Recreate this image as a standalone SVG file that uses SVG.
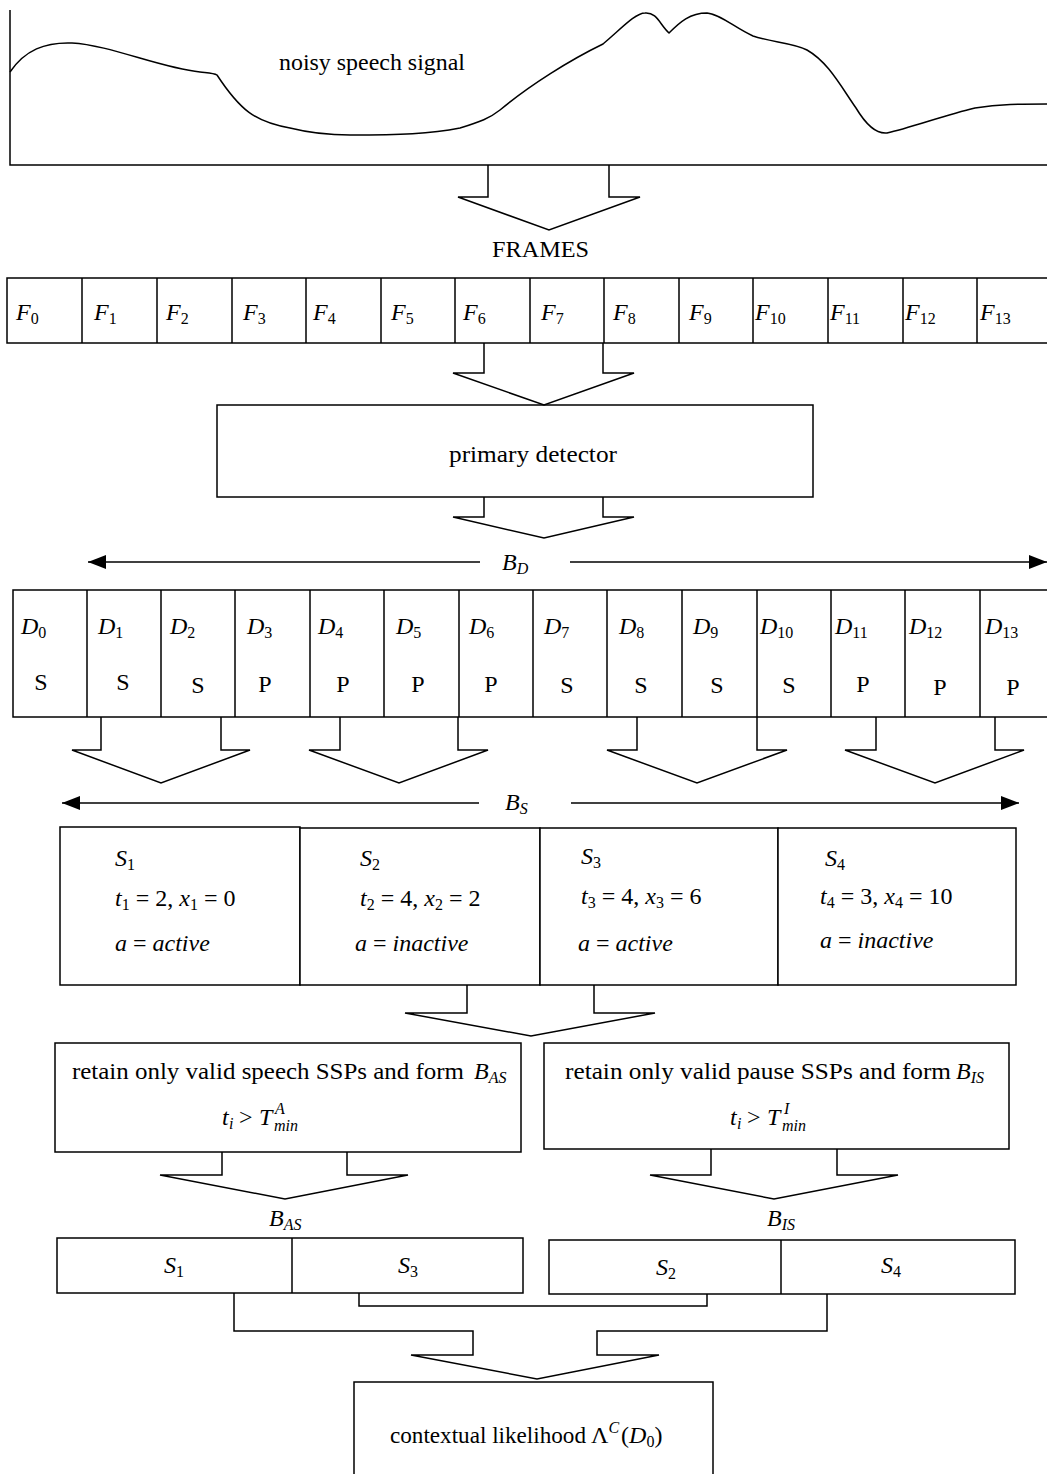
<svg xmlns="http://www.w3.org/2000/svg" width="1047" height="1474" viewBox="0 0 1047 1474">
  <style>
    .ln { fill: none; stroke: #000; stroke-width: 1.5; }
    .box { fill: #fff; stroke: #000; stroke-width: 1.5; }
    .t { font-family: "Liberation Serif", "DejaVu Serif", serif; font-size: 24px; fill: #000; }
    .c { text-anchor: middle; }
    .i { font-style: italic; }
    .s { font-size: 16px; }
  </style>
  <defs>
    <marker id="head" markerUnits="userSpaceOnUse" markerWidth="18" markerHeight="14" refX="18" refY="7" orient="auto">
      <path d="M0,0 L18,7 L0,14 z" fill="#000"/>
    </marker>
  </defs>
  <rect width="1047" height="1474" fill="#fff"/>

  <!-- signal plot -->
  <g id="signal">
    <path class="ln" d="M10,10 V165 H1047"/>
    <path class="ln" d="M10,72 C25,50 45,42 72,43 C110,45 160,68 200,72 C210,73 214,73 217,75 C240,110 255,122 290,128 C310,133 330,135 350,135 C400,135 430,134 460,128 C480,122 490,118 500,110 C530,85 570,60 603,44 C620,30 635,13 645,13 C657,12 660,25 669,33 C680,22 690,13 707,13 C720,14 735,28 753,36 C770,42 795,43 807,50 C828,62 840,85 856,108 C868,128 878,134 887,133 C910,128 945,115 975,108 C1000,104 1020,104 1047,104"/>
    <text class="t" x="279" y="70" textLength="186" lengthAdjust="spacingAndGlyphs">noisy speech signal</text>
  </g>

  <!-- frames -->
  <g id="frames">
    <rect class="box" x="7" y="278" width="1045" height="65"/>
    <path class="ln" d="M82,278V343 M157,278V343 M232,278V343 M306,278V343 M381,278V343 M455,278V343 M530,278V343 M604,278V343 M679,278V343 M753,278V343 M828,278V343 M903,278V343 M977,278V343"/>
    <text class="t i" x="16" y="320">F<tspan class="s" font-style="normal" dy="4">0</tspan></text>
    <text class="t i" x="94" y="320">F<tspan class="s" font-style="normal" dy="4">1</tspan></text>
    <text class="t i" x="166" y="320">F<tspan class="s" font-style="normal" dy="4">2</tspan></text>
    <text class="t i" x="243" y="320">F<tspan class="s" font-style="normal" dy="4">3</tspan></text>
    <text class="t i" x="313" y="320">F<tspan class="s" font-style="normal" dy="4">4</tspan></text>
    <text class="t i" x="391" y="320">F<tspan class="s" font-style="normal" dy="4">5</tspan></text>
    <text class="t i" x="463" y="320">F<tspan class="s" font-style="normal" dy="4">6</tspan></text>
    <text class="t i" x="541" y="320">F<tspan class="s" font-style="normal" dy="4">7</tspan></text>
    <text class="t i" x="613" y="320">F<tspan class="s" font-style="normal" dy="4">8</tspan></text>
    <text class="t i" x="689" y="320">F<tspan class="s" font-style="normal" dy="4">9</tspan></text>
    <text class="t i" x="755" y="320">F<tspan class="s" font-style="normal" dy="4">10</tspan></text>
    <text class="t i" x="830" y="320">F<tspan class="s" font-style="normal" dy="4">11</tspan></text>
    <text class="t i" x="905" y="320">F<tspan class="s" font-style="normal" dy="4">12</tspan></text>
    <text class="t i" x="980" y="320">F<tspan class="s" font-style="normal" dy="4">13</tspan></text>
  </g>
  <text class="t" x="492" y="257" font-size="25" textLength="97" lengthAdjust="spacingAndGlyphs">FRAMES</text>

  <!-- primary detector -->
  <g id="detector">
    <rect class="box" x="217" y="405" width="596" height="92"/>
    <text class="t" x="449" y="462" font-size="25" textLength="168" lengthAdjust="spacingAndGlyphs">primary detector</text>
  </g>

  <!-- decisions -->
  <g id="decisions">
    <rect class="box" x="13" y="590" width="1040" height="127"/>
    <path class="ln" d="M87,590V717 M161,590V717 M235,590V717 M310,590V717 M384,590V717 M459,590V717 M533,590V717 M607,590V717 M682,590V717 M757,590V717 M831,590V717 M905,590V717 M980,590V717"/>
    <text class="t i" x="21" y="634">D<tspan class="s" font-style="normal" dy="4">0</tspan></text>
    <text class="t i" x="98" y="634">D<tspan class="s" font-style="normal" dy="4">1</tspan></text>
    <text class="t i" x="170" y="634">D<tspan class="s" font-style="normal" dy="4">2</tspan></text>
    <text class="t i" x="247" y="634">D<tspan class="s" font-style="normal" dy="4">3</tspan></text>
    <text class="t i" x="318" y="634">D<tspan class="s" font-style="normal" dy="4">4</tspan></text>
    <text class="t i" x="396" y="634">D<tspan class="s" font-style="normal" dy="4">5</tspan></text>
    <text class="t i" x="469" y="634">D<tspan class="s" font-style="normal" dy="4">6</tspan></text>
    <text class="t i" x="544" y="634">D<tspan class="s" font-style="normal" dy="4">7</tspan></text>
    <text class="t i" x="619" y="634">D<tspan class="s" font-style="normal" dy="4">8</tspan></text>
    <text class="t i" x="693" y="634">D<tspan class="s" font-style="normal" dy="4">9</tspan></text>
    <text class="t i" x="760" y="634">D<tspan class="s" font-style="normal" dy="4">10</tspan></text>
    <text class="t i" x="835" y="634">D<tspan class="s" font-style="normal" dy="4">11</tspan></text>
    <text class="t i" x="909" y="634">D<tspan class="s" font-style="normal" dy="4">12</tspan></text>
    <text class="t i" x="985" y="634">D<tspan class="s" font-style="normal" dy="4">13</tspan></text>
    <text class="t c" x="41" y="690">S</text>
    <text class="t c" x="123" y="690">S</text>
    <text class="t c" x="198" y="693">S</text>
    <text class="t c" x="265" y="692">P</text>
    <text class="t c" x="343" y="692">P</text>
    <text class="t c" x="418" y="692">P</text>
    <text class="t c" x="491" y="692">P</text>
    <text class="t c" x="567" y="693">S</text>
    <text class="t c" x="641" y="693">S</text>
    <text class="t c" x="717" y="693">S</text>
    <text class="t c" x="789" y="693">S</text>
    <text class="t c" x="863" y="692">P</text>
    <text class="t c" x="940" y="695">P</text>
    <text class="t c" x="1013" y="695">P</text>
  </g>

  <!-- speech/silence periods -->
  <g id="ssp1">
    <rect class="box" x="60" y="827" width="240" height="158"/>
    <text class="t i" x="115" y="866">S<tspan class="s" font-style="normal" dy="4">1</tspan></text>
    <text class="t" x="115" y="906"><tspan class="i">t</tspan><tspan class="s" dy="4">1</tspan><tspan dy="-4"> = 2, </tspan><tspan class="i">x</tspan><tspan class="s" dy="4">1</tspan><tspan dy="-4"> = 0</tspan></text>
    <text class="t i" x="115" y="951">a <tspan font-style="normal">=</tspan> active</text>
  </g>
  <g id="ssp2">
    <rect class="box" x="300" y="828" width="240" height="157"/>
    <text class="t i" x="360" y="866">S<tspan class="s" font-style="normal" dy="4">2</tspan></text>
    <text class="t" x="360" y="906"><tspan class="i">t</tspan><tspan class="s" dy="4">2</tspan><tspan dy="-4"> = 4, </tspan><tspan class="i">x</tspan><tspan class="s" dy="4">2</tspan><tspan dy="-4"> = 2</tspan></text>
    <text class="t i" x="355" y="951">a <tspan font-style="normal">=</tspan> inactive</text>
  </g>
  <g id="ssp3">
    <rect class="box" x="540" y="828" width="238" height="157"/>
    <text class="t i" x="581" y="864">S<tspan class="s" font-style="normal" dy="4">3</tspan></text>
    <text class="t" x="581" y="904"><tspan class="i">t</tspan><tspan class="s" dy="4">3</tspan><tspan dy="-4"> = 4, </tspan><tspan class="i">x</tspan><tspan class="s" dy="4">3</tspan><tspan dy="-4"> = 6</tspan></text>
    <text class="t i" x="578" y="951">a <tspan font-style="normal">=</tspan> active</text>
  </g>
  <g id="ssp4">
    <rect class="box" x="778" y="828" width="238" height="157"/>
    <text class="t i" x="825" y="866">S<tspan class="s" font-style="normal" dy="4">4</tspan></text>
    <text class="t" x="820" y="904"><tspan class="i">t</tspan><tspan class="s" dy="4">4</tspan><tspan dy="-4"> = 3, </tspan><tspan class="i">x</tspan><tspan class="s" dy="4">4</tspan><tspan dy="-4"> = 10</tspan></text>
    <text class="t i" x="820" y="948">a <tspan font-style="normal">=</tspan> inactive</text>
  </g>

  <!-- filters -->
  <g id="speech-filter">
    <rect class="box" x="55" y="1043" width="466" height="109"/>
    <text class="t" x="72" y="1079" textLength="392" lengthAdjust="spacingAndGlyphs">retain only valid speech SSPs and form</text>
    <text class="t i" x="474" y="1079">B<tspan class="s" dy="4">AS</tspan></text>
    <text class="t i" x="222" y="1125">t</text>
    <text class="t s i" x="229" y="1129">i</text>
    <text class="t" x="239" y="1125">&gt;</text>
    <text class="t i" x="259" y="1125">T</text>
    <text class="t s i" x="275" y="1114">A</text>
    <text class="t s i" x="274" y="1131">min</text>
  </g>
  <g id="pause-filter">
    <rect class="box" x="544" y="1043" width="465" height="106"/>
    <text class="t" x="565" y="1079" textLength="386" lengthAdjust="spacingAndGlyphs">retain only valid pause SSPs and form</text>
    <text class="t i" x="956" y="1079">B<tspan class="s" dy="4">IS</tspan></text>
    <text class="t i" x="730" y="1125">t</text>
    <text class="t s i" x="737" y="1129">i</text>
    <text class="t" x="747" y="1125">&gt;</text>
    <text class="t i" x="767" y="1125">T</text>
    <text class="t s i" x="784" y="1114">I</text>
    <text class="t s i" x="782" y="1131">min</text>
  </g>

  <!-- retained buffers -->
  <g id="buffer-as">
    <rect class="box" x="57" y="1238" width="466" height="55"/>
    <path class="ln" d="M292,1238V1293"/>
    <text class="t i" x="164" y="1273">S<tspan class="s" font-style="normal" dy="4">1</tspan></text>
    <text class="t i" x="398" y="1273">S<tspan class="s" font-style="normal" dy="4">3</tspan></text>
  </g>
  <g id="buffer-is">
    <rect class="box" x="549" y="1240" width="466" height="54"/>
    <path class="ln" d="M781,1240V1294"/>
    <text class="t i" x="656" y="1275">S<tspan class="s" font-style="normal" dy="4">2</tspan></text>
    <text class="t i" x="881" y="1273">S<tspan class="s" font-style="normal" dy="4">4</tspan></text>
  </g>
  <text class="t i" x="269" y="1226">B<tspan class="s" dy="4">AS</tspan></text>
  <text class="t i" x="767" y="1226">B<tspan class="s" dy="4">IS</tspan></text>

  <!-- contextual likelihood -->
  <g id="likelihood">
    <rect class="box" x="354" y="1382" width="359" height="100"/>
    <text class="t" x="390" y="1443" textLength="196" lengthAdjust="spacingAndGlyphs">contextual likelihood</text>
    <text class="t" x="591" y="1443">Λ<tspan class="s i" dy="-10">C</tspan><tspan dy="10" dx="2">(</tspan><tspan class="i">D</tspan><tspan class="s" dy="4">0</tspan><tspan dy="-4">)</tspan></text>
  </g>

  <!-- connectors -->
  <g id="connectors">
    <path class="ln" d="M488,165 V197 H458 L549,230 L640,197 H609 V165"/>
    <path class="ln" d="M484,343 V373 H453 L544,405 L634,373 H603 V343"/>
    <path class="ln" d="M484,497 V517 H453 L544,538 L634,517 H603 V497"/>
    <path class="ln" d="M101,717 V750 H72 L161,783 L250,750 H221 V717"/>
    <path class="ln" d="M340,717 V750 H309 L399,783 L488,750 H458 V717"/>
    <path class="ln" d="M637,717 V750 H607 L697,783 L787,750 H757 V717"/>
    <path class="ln" d="M876,717 V750 H845 L935,783 L1024,750 H995 V717"/>
    <path class="ln" d="M467,985 V1013 H405 L531,1036 L655,1013 H594 V985"/>
    <path class="ln" d="M222,1152 V1175 H160 L285,1199 L408,1175 H347 V1152"/>
    <path class="ln" d="M711,1149 V1175 H650 L774,1199 L898,1175 H837 V1149"/>
    <path class="ln" d="M359,1293 V1306 H707 V1294"/>
    <path class="ln" d="M234,1293 V1331 H473 V1355 H411 L537,1379 L659,1355 H597 V1331 H827 V1294"/>
    <!-- span arrows -->
    <path class="ln" d="M480,562 H88" marker-end="url(#head)"/>
    <path class="ln" d="M570,562 H1047" marker-end="url(#head)"/>
    <path class="ln" d="M479,803 H62" marker-end="url(#head)"/>
    <path class="ln" d="M571,803 H1019" marker-end="url(#head)"/>
  </g>
  <text class="t i" x="502" y="570">B<tspan class="s" dy="4">D</tspan></text>
  <text class="t i" x="505" y="810">B<tspan class="s" dy="4">S</tspan></text>
</svg>
